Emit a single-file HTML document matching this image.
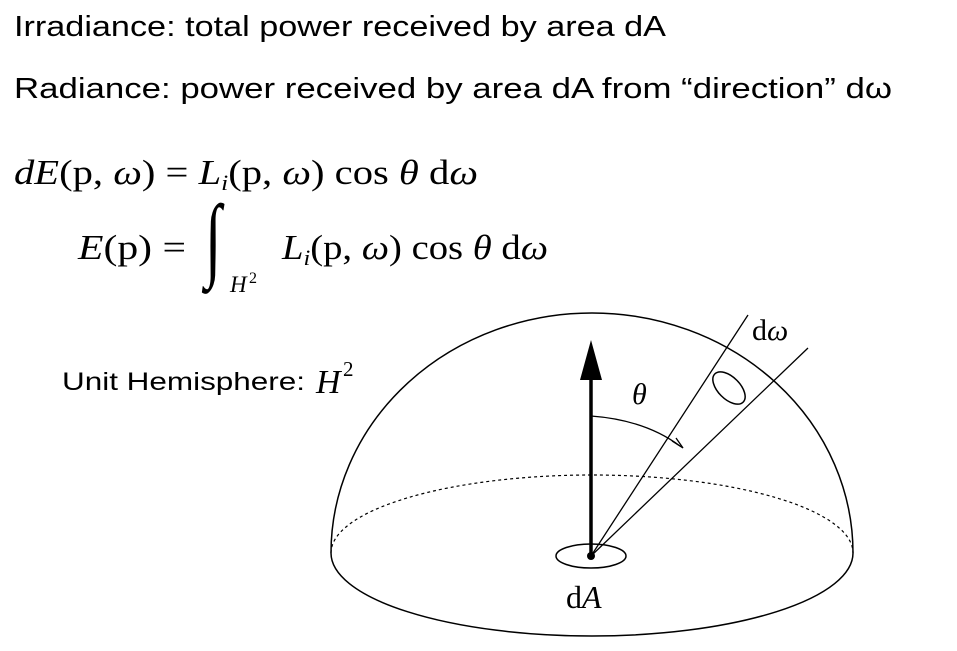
<!DOCTYPE html>
<html><head><meta charset="utf-8"><style>
html,body{margin:0;padding:0;background:#fff;}
svg{display:block}
.s{font-family:"Liberation Sans",sans-serif;fill:#000}
.m{font-family:"Liberation Serif",serif;fill:#000}
</style></head><body>
<svg width="957" height="651" viewBox="0 0 957 651" xmlns="http://www.w3.org/2000/svg">
<text class="s" x="14" y="36" font-size="29" textLength="652" lengthAdjust="spacingAndGlyphs">Irradiance: total power received by area dA</text>
<text class="s" x="14" y="98" font-size="29" textLength="878" lengthAdjust="spacingAndGlyphs">Radiance: power received by area dA from “direction” dω</text>

<text class="m" x="14" y="184" font-size="35" textLength="464" lengthAdjust="spacingAndGlyphs"><tspan font-style="italic">dE</tspan>(p, <tspan font-style="italic">ω</tspan>) = <tspan font-style="italic">L</tspan><tspan font-style="italic" font-size="22" dy="6">i</tspan><tspan dy="-6">(p, </tspan><tspan font-style="italic">ω</tspan>) cos <tspan font-style="italic">θ</tspan> d<tspan font-style="italic">ω</tspan></text>
<text class="m" x="78" y="259" font-size="35" textLength="108" lengthAdjust="spacingAndGlyphs"><tspan font-style="italic">E</tspan>(p) =</text>
<text class="m" font-size="60" font-style="italic" transform="translate(205 269) scale(1 1.55)">∫</text>
<text class="m" x="230" y="292" font-size="23" font-style="italic">H</text>
<text class="m" x="249" y="283" font-size="16">2</text>
<text class="m" x="282" y="259" font-size="35" textLength="266" lengthAdjust="spacingAndGlyphs"><tspan font-style="italic">L</tspan><tspan font-style="italic" font-size="22" dy="6">i</tspan><tspan dy="-6">(p, </tspan><tspan font-style="italic">ω</tspan>) cos <tspan font-style="italic">θ</tspan> d<tspan font-style="italic">ω</tspan></text>

<text class="s" x="62" y="390" font-size="25" textLength="243" lengthAdjust="spacingAndGlyphs">Unit Hemisphere:</text>
<text class="m" x="316" y="393" font-size="34" font-style="italic">H</text>
<text class="m" x="343" y="376" font-size="21">2</text>

<g fill="none" stroke="#000" stroke-width="1.5">
<path d="M331,553 A261,240 0 0 1 853,553"/>
<path d="M331,553 A261,83 0 0 0 853,553"/>
<path d="M331,553 A261,78 0 0 1 853,553" stroke-dasharray="3,3" stroke-width="1.2"/>
<ellipse cx="591" cy="556" rx="35" ry="12"/>
<line x1="591" y1="556" x2="748" y2="315" stroke-width="1.3"/>
<line x1="591" y1="556" x2="808" y2="348" stroke-width="1.3"/>
<ellipse cx="729" cy="388" rx="11" ry="20" transform="rotate(-45 729 388)"/>
<path d="M591,416 Q645,420 680,446" stroke-width="1.3"/>
<path d="M672,441 L683,448 L676,438" stroke-width="1.3"/>
<line x1="591" y1="556" x2="591" y2="380" stroke-width="3.5"/>
</g>
<polygon points="591,340 580,380 602,380" fill="#000"/>
<circle cx="591" cy="556" r="4" fill="#000"/>
<text class="m" x="632" y="404" font-size="30" font-style="italic">θ</text>
<text class="m" x="752" y="340" font-size="30">d<tspan font-style="italic">ω</tspan></text>
<text class="m" x="566" y="608" font-size="32">d<tspan font-style="italic">A</tspan></text>
</svg>
</body></html>
